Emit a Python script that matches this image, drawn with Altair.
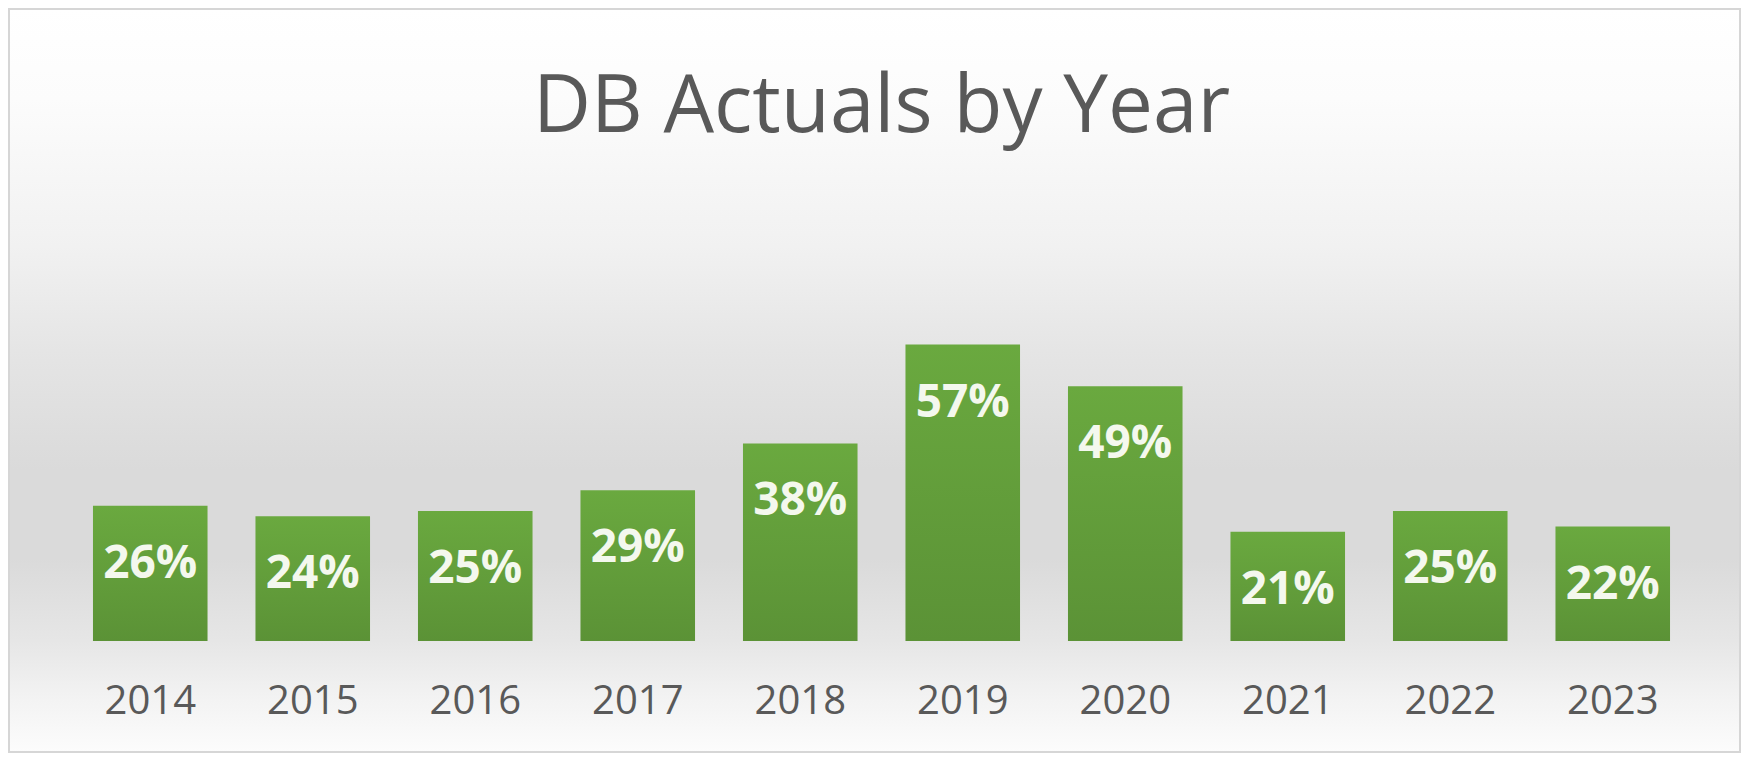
import altair as alt
import pandas as pd

years = ["2014", "2015", "2016", "2017", "2018", "2019", "2020", "2021", "2022", "2023"]
values = [0.26, 0.24, 0.25, 0.29, 0.38, 0.57, 0.49, 0.21, 0.25, 0.22]
title_text = "DB Actuals by Year"

df = pd.DataFrame({"year": years, "value": values})

W, H = 1625, 364
PAD = {"left": 61, "top": 269, "right": 47, "bottom": 112}

bg_grad = alt.LinearGradient(
    gradient="linear", x1=0, y1=0, x2=0, y2=1,
    stops=[
        alt.GradientStop(offset=0.0, color="#ffffff"),
        alt.GradientStop(offset=0.12, color="#fcfcfc"),
        alt.GradientStop(offset=0.32, color="#f1f1f1"),
        alt.GradientStop(offset=0.46, color="#e5e5e5"),
        alt.GradientStop(offset=0.62, color="#dadada"),
        alt.GradientStop(offset=0.74, color="#dadada"),
        alt.GradientStop(offset=0.85, color="#e6e6e6"),
        alt.GradientStop(offset=0.93, color="#f3f3f3"),
        alt.GradientStop(offset=1.0, color="#fcfcfc"),
    ],
)

bar_grad = alt.LinearGradient(
    gradient="linear", x1=0, y1=0, x2=0, y2=1,
    stops=[
        alt.GradientStop(offset=0.0, color="#6aa93f"),
        alt.GradientStop(offset=1.0, color="#5b9236"),
    ],
)

bg = alt.Chart(pd.DataFrame({"k": [0]})).mark_rect(
    fill=bg_grad, stroke="#d6d6d6", strokeWidth=2
).encode(
    x=alt.value(-60), x2=alt.value(W + 46),
    y=alt.value(-268), y2=alt.value(H + 111),
)

x_enc = alt.X(
    "year:N", sort=years,
    scale=alt.Scale(paddingInner=0.295, paddingOuter=0.1475),
    axis=alt.Axis(
        title=None, labelAngle=0, ticks=False, domain=False, grid=False,
        labelFont="Open Sans", labelFontSize=40, labelColor="#595959",
        labelPadding=60, labelBaseline="middle", zindex=2,
    ),
)
y_enc = alt.Y("value:Q", scale=alt.Scale(domain=[0, 0.7]), axis=None)

bars = alt.Chart(df).mark_bar(color=bar_grad).encode(x=x_enc, y=y_enc)

labels = alt.Chart(df).mark_text(
    baseline="middle", dy=58, font="Open Sans", fontWeight="bold",
    fontSize=46, color="#f4f8ee",
).encode(x=x_enc, y=y_enc, text=alt.Text("value:Q", format=".0%"))

chart = alt.layer(bg, bars, labels).properties(
    width=W, height=H,
    padding=PAD,
    autosize=alt.AutoSizeParams(type="none"),
    background="white",
    title=alt.Title(
        title_text, font="Open Sans", fontSize=80, fontWeight="normal",
        color="#595959", anchor="middle", frame="group",
        baseline="alphabetic", offset=-204,
    ),
).configure_view(stroke=None)

chart.save("out.html", embed_options={"renderer": "svg", "actions": False})
